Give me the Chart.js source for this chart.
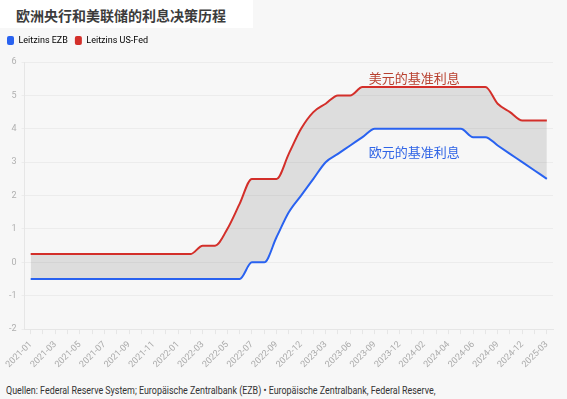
<!DOCTYPE html>
<html>
<head>
<meta charset="utf-8">
<script src="https://cdn.jsdelivr.net/npm/chart.js@4"></script>
<style>
  body { margin: 0; background: #f7f7f7; width: 567px; height: 399px; overflow: hidden; position: relative; font-family: Roboto, "Noto Sans", sans-serif; }
  #title { position: absolute; left: 0; top: 0; width: 253px; height: 28px; background: #fff; color: #3c3c3c;
           font: bold 14px "Noto Sans CJK SC", sans-serif; line-height: 30px; padding-left: 16px; box-sizing: border-box; }
  #wrap { position: absolute; left: 0; top: 29px; width: 567px; height: 346px; }
  #source { position: absolute; left: 6px; top: 384px; font-size: 11px; color: #333; white-space: nowrap;
            transform: scaleX(0.81); transform-origin: left top; }
</style>
</head>
<body>
<div id="title">欧洲央行和美联储的利息决策历程</div>
<div id="wrap"><canvas id="chart"></canvas></div>
<div id="source">Quellen: Federal Reserve System; Europäische Zentralbank (EZB) • Europäische Zentralbank, Federal Reserve,</div>
<script>
// Zeitpunkte (nur jeder zweite wird beschriftet)
const months = [
  "2021-01", "2021-02", "2021-03", "2021-04", "2021-05", "2021-06", "2021-07", "2021-08",
  "2021-09", "2021-10", "2021-11", "2021-12", "2022-01", "2022-02", "2022-03", "2022-04",
  "2022-05", "2022-06", "2022-07", "2022-08", "2022-09", "2022-11", "2022-12", "2023-02",
  "2023-03", "2023-05", "2023-06", "2023-07", "2023-09", "2023-11", "2023-12", "2024-01",
  "2024-02", "2024-03", "2024-04", "2024-05", "2024-06", "2024-07", "2024-09", "2024-11",
  "2024-12", "2025-01", "2025-03"
];

const ezbRates = [
  -0.5, -0.5, -0.5, -0.5, -0.5, -0.5, -0.5, -0.5, -0.5, -0.5, -0.5, -0.5, -0.5, -0.5, -0.5, -0.5,
  -0.5, -0.5, 0, 0, 0.75, 1.5, 2.0, 2.5, 3.0, 3.25, 3.5, 3.75, 4.0, 4.0, 4.0, 4.0,
  4.0, 4.0, 4.0, 4.0, 3.75, 3.75, 3.5, 3.25, 3.0, 2.75, 2.5
];

const fedRates = [
  0.25, 0.25, 0.25, 0.25, 0.25, 0.25, 0.25, 0.25, 0.25, 0.25, 0.25, 0.25, 0.25, 0.25, 0.5, 0.5,
  1.0, 1.75, 2.5, 2.5, 2.5, 3.25, 4.0, 4.5, 4.75, 5.0, 5.0, 5.25, 5.25, 5.25, 5.25, 5.25,
  5.25, 5.25, 5.25, 5.25, 5.25, 5.25, 4.75, 4.5, 4.25, 4.25, 4.25
];

const yTicks = [-2, -1, 0, 1, 2, 3, 4, 5, 6];

// Beschriftungen im Diagramm (Position in Datenkoordinaten)
const noteTexts = ["美元的基准利息", "欧元的基准利息"];
const noteX = [31.2, 31.2];
const noteY = [5.51, 3.29];
const noteColors = ["#b8402f", "#2f64e6"];

const blue = "#2962f0";
const red = "#d32f2a";

const notesPlugin = {
    id: "notes",
    afterDatasetsDraw(chart) {
        const ctx = chart.ctx;
        const xs = chart.scales.x;
        const ys = chart.scales.y;
        ctx.save();
        ctx.font = '13px "Noto Sans CJK SC", sans-serif';
        ctx.textAlign = "center";
        ctx.textBaseline = "middle";
        for (let i = 0; i < noteTexts.length; i++) {
            ctx.fillStyle = noteColors[i];
            ctx.fillText(noteTexts[i], xs.getPixelForValue(noteX[i]), ys.getPixelForValue(noteY[i]));
        }
        ctx.restore();
    }
};

// etwas mehr Abstand unter der Legende
const legendGap = {
    id: "legendGap",
    beforeInit(chart) {
        const fit = chart.legend.fit;
        chart.legend.fit = function () {
            fit.bind(chart.legend)();
            this.height += 7;
        };
    }
};

new Chart(document.getElementById("chart"), {
    type: "line",
    data: {
        labels: months,
        datasets: [{
            label: "Leitzins EZB",
            data: ezbRates,
            borderColor: blue,
            backgroundColor: blue,
            borderWidth: 2,
            pointRadius: 0,
            cubicInterpolationMode: "monotone",
            fill: false
        }, {
            label: "Leitzins US-Fed",
            data: fedRates,
            borderColor: red,
            backgroundColor: red,
            borderWidth: 2,
            pointRadius: 0,
            cubicInterpolationMode: "monotone",
            fill: { target: "-1", above: "rgba(0,0,0,0.1)", below: "rgba(0,0,0,0.1)" }
        }]
    },
    options: {
        responsive: true,
        maintainAspectRatio: false,
        animation: false,
        layout: { padding: { left: 0, right: 14, top: 0, bottom: 0 } },
        plugins: {
            filler: { drawTime: "beforeDatasetsDraw" },
            tooltip: { enabled: false },
            legend: {
                position: "top",
                align: "start",
                labels: {
                    boxWidth: 7,
                    boxHeight: 9,
                    useBorderRadius: true,
                    borderRadius: 2,
                    padding: 7,
                    color: "#444",
                    font: { family: "Roboto", size: 9 },
                    generateLabels(chart) {
                        return chart.data.datasets.map((ds, i) => ({
                            text: ds.label,
                            fillStyle: ds.borderColor,
                            strokeStyle: ds.borderColor,
                            lineWidth: 0,
                            borderRadius: 2,
                            datasetIndex: i
                        }));
                    }
                }
            }
        },
        scales: {
            x: {
                offset: true,
                grid: { drawOnChartArea: false, drawTicks: true, tickLength: 5, color: "#e6e6e6", offset: false },
                border: { color: "#e6e6e6" },
                ticks: {
                    autoSkip: false,
                    maxRotation: 45,
                    minRotation: 45,
                    padding: 5,
                    color: "#aaa",
                    font: { family: "Roboto", size: 9 },
                    callback(value, index) {
                        return index % 2 === 0 ? months[index] : "";
                    }
                }
            },
            y: {
                min: -2,
                max: 6,
                afterBuildTicks(scale) {
                    scale.ticks = yTicks.map(v => ({ value: v }));
                },
                afterFit(scale) {
                    scale.width += 4;
                },
                grid: { color: "#ececec", tickLength: 3 },
                border: { color: "#e6e6e6" },
                ticks: {
                    padding: 5,
                    color: "#b0b0b0",
                    font: { family: "Roboto", size: 9 }
                }
            }
        }
    },
    plugins: [notesPlugin, legendGap]
});
</script>
</body>
</html>
